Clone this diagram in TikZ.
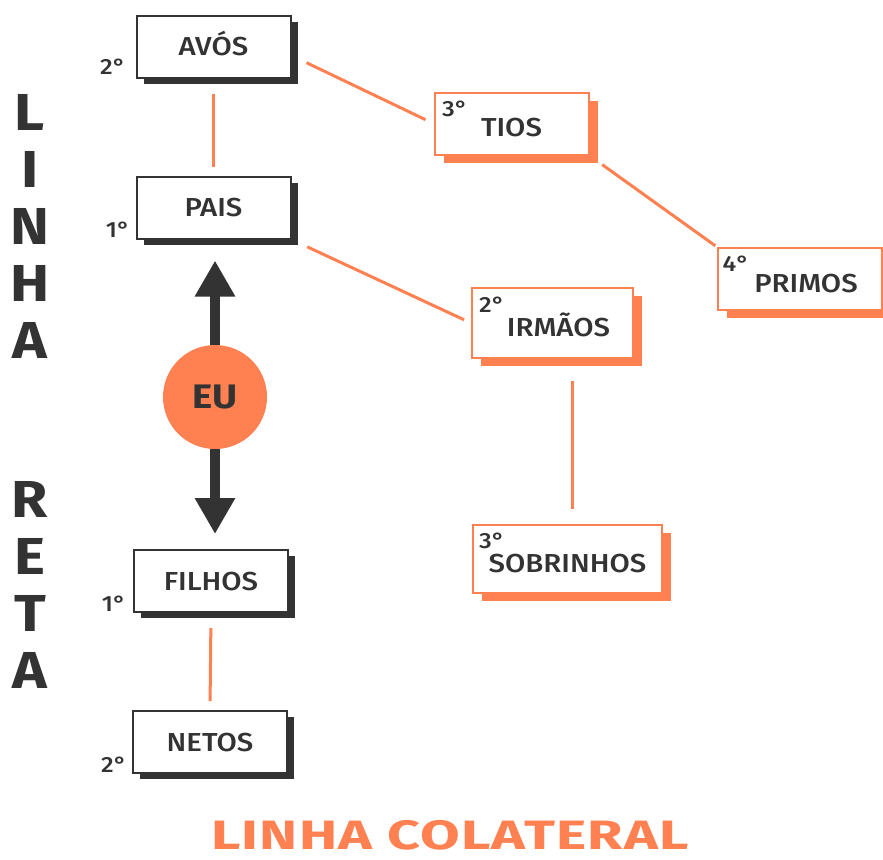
\documentclass[tikz,border=0pt]{standalone}
\usepackage{fontspec}
\setmainfont{Fira Sans}[UprightFont=* Medium, BoldFont=* Bold, FakeStretch=1.13]
\newfontfamily\titulo{Fira Sans}[UprightFont=* Bold, FakeStretch=1.4, LetterSpace=3]
\usetikzlibrary{arrows.meta,shadows}
\definecolor{laranja}{RGB}{255,128,80}
\definecolor{escuro}{RGB}{51,51,51}
\tikzset{
  base/.style={fill=white, line width=1pt, minimum width=77pt, minimum height=31pt,
    text=escuro, font=\fontsize{13}{14}\selectfont, text depth=0pt},
  caixa/.style={base, draw=escuro, text height=9pt,
    drop shadow={shadow xshift=3.5pt, shadow yshift=-3pt, fill=escuro, opacity=1}},
  caixalar/.style={base, draw=laranja, text height=13pt,
    drop shadow={shadow xshift=4.5pt, shadow yshift=-4pt, fill=laranja, opacity=1}},
  grau/.style={text=escuro, font=\fontsize{11}{12}\selectfont, inner sep=0pt},
  liga/.style={draw=laranja, line width=1.5pt},
  seta/.style={draw=escuro, line width=5pt, -{Triangle[width=19pt,length=18pt]}},
  letra/.style={text=escuro, font=\fontsize{26}{28}\selectfont\bfseries},
}
\begin{document}
\begin{tikzpicture}[x=0.5pt, y=-0.5pt]
  \useasboundingbox (0,0) rectangle (883,859);

  % Linha reta (vertical)
  \foreach \l [count=\i] in {L,I,N,H,A}
    \node[letra] (linha-\i) at (30,{55+57*\i}) {\l};
  \foreach \l [count=\i] in {R,E,T,A}
    \node[letra] (reta-\i) at (30,{442+57*\i}) {\l};

  % Ascendentes e descendentes
  \node[caixa] (avos) at (213.5,46.5) {AVÓS};
  \node[caixa] (pais) at (213.5,207.5) {PAIS};
  \node[caixa] (filhos) at (211,581) {FILHOS};
  \node[caixa] (netos) at (210,742) {NETOS};
  \node[grau] (g-avos) at (113,67) {2°};
  \node[grau] (g-pais) at (118,230) {1°};
  \node[grau] (g-filhos) at (114,604) {1°};
  \node[grau] (g-netos) at (114,765) {2°};

  % Eu
  \node[circle, fill=laranja, minimum size=52pt, text=escuro,
    font=\fontsize{17}{18}\selectfont\bfseries] (eu) at (215,397) {EU};
  \draw[seta, shorten >=10.5pt] (eu.north) -- (eu.north |- pais.south);
  \draw[seta, shorten >=7.5pt] (eu.south) -- (eu.south |- filhos.north);

  % Colaterais
  \node[caixalar] (tios) at (511.5,123.5) {TIOS};
  \node[caixalar, minimum width=82pt] (primos) at (800,279) {\hspace*{6pt}PRIMOS};
  \node[caixalar, minimum width=80.5pt, minimum height=35pt] (irmaos) at (552.5,323) {\hspace*{6pt}IRMÃOS};
  \node[caixalar, minimum width=94.5pt, minimum height=34pt] (sobrinhos) at (567.5,559) {SOBRINHOS};
  \node[grau] (g-tios) at (455,109) {3°};
  \node[grau] (g-primos) at (736,264) {4°};
  \node[grau] (g-irmaos) at (492,305) {2°};
  \node[grau] (g-sobrinhos) at (492,541) {3°};

  % Ligacoes
  \draw[liga, shorten <=7.5pt, shorten >=4.5pt] (avos.south) -- (pais.north);
  \draw[liga, shorten <=7.5pt, shorten >=4.5pt] (filhos.south) -- (netos.north);
  \draw[liga, shorten <=8.3pt, shorten >=4.4pt] ([yshift=-4.5pt]avos.east) -- (tios.west);
  \draw[liga, shorten <=7.8pt, shorten >=1pt] (tios.south east) -- (primos.north west);
  \draw[liga, shorten <=8.7pt, shorten >=3.8pt] (pais.south east) -- (irmaos.west);
  \draw[liga, shorten <=11pt, shorten >=7.5pt] ([xshift=10pt]irmaos.south) -- ([xshift=10pt]irmaos.south |- sobrinhos.north);

  % Linha colateral
  \node[text=laranja, font=\titulo\fontsize{20.5}{22}\selectfont] (colateral) at (450,835) {LINHA COLATERAL};
\end{tikzpicture}
\end{document}
